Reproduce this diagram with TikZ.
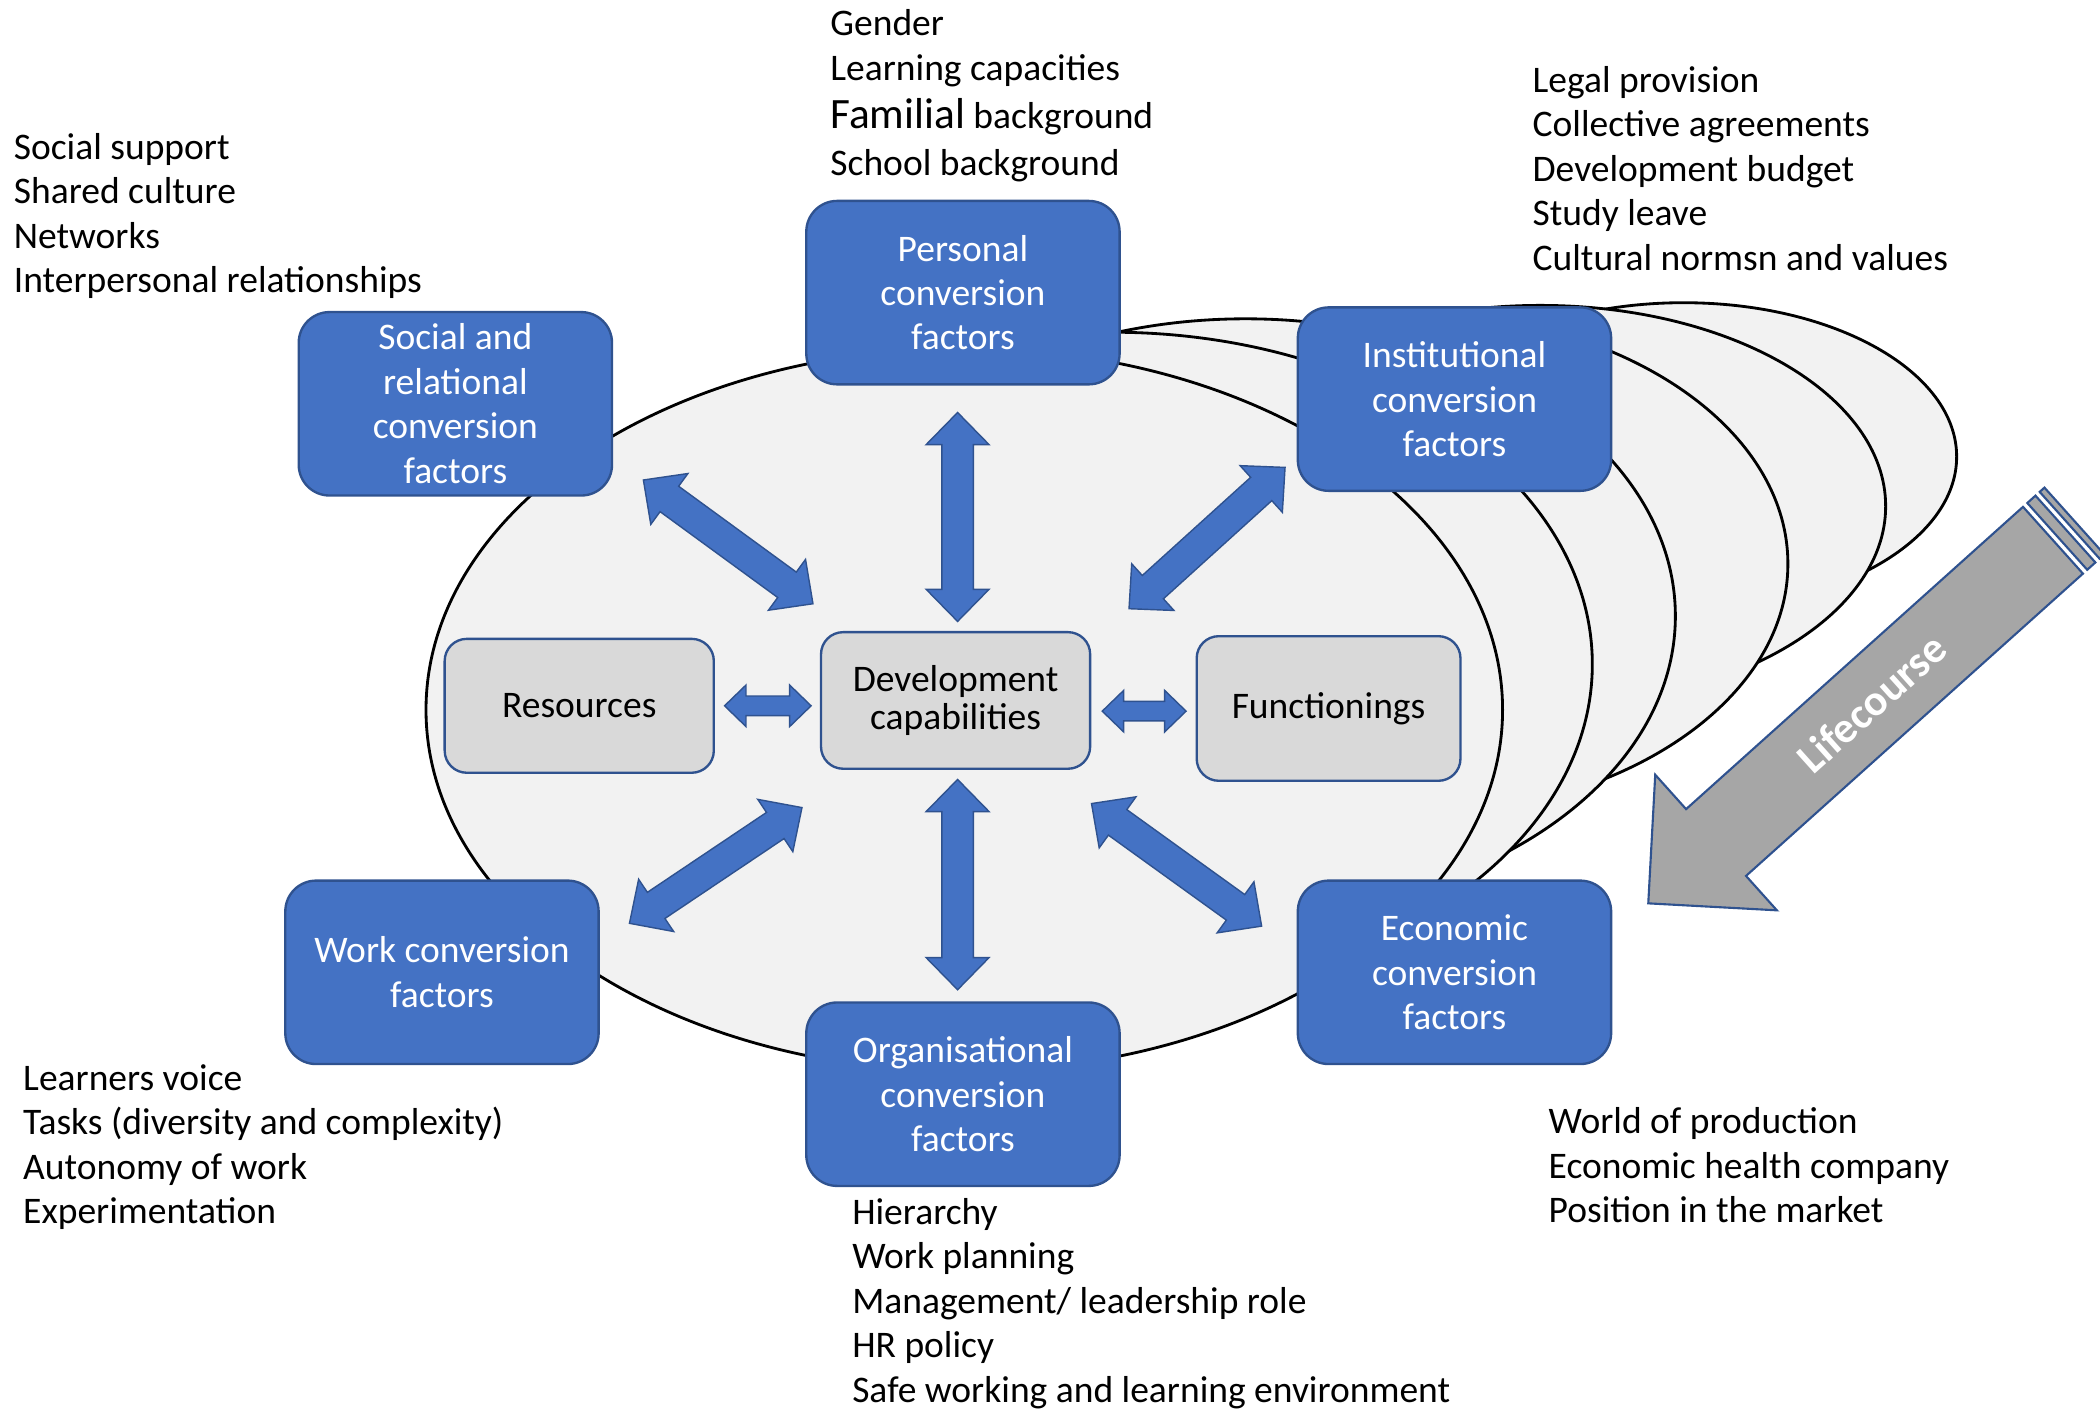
\documentclass[tikz,border=0pt]{standalone}
\usepackage{fontspec}
\setmainfont{Carlito}
\usetikzlibrary{calc}
\definecolor{boxblue}{HTML}{4472C4}
\definecolor{edgeblue}{HTML}{2F528F}
\definecolor{panelgray}{HTML}{D9D9D9}
\definecolor{ringfill}{HTML}{F2F2F2}
\definecolor{lifegray}{HTML}{A6A6A6}

\begin{document}
\begin{tikzpicture}[x=0.02cm,y=-0.02cm,
  bodyfont/.style={font=\fontsize{15.95}{18.9}\selectfont},
  factor/.style={rectangle, rounded corners=0.46cm, fill=boxblue, draw=edgeblue,
    line width=1pt, minimum width=4.68cm, minimum height=2.74cm, text=white,
    align=center, inner sep=0pt, bodyfont},
  core/.style={rectangle, rounded corners=0.33cm, fill=panelgray, draw=edgeblue,
    line width=1pt, align=center, inner sep=0pt, bodyfont},
  ring/.style={fill=ringfill, draw=black, line width=1.2pt},
  list/.style={anchor=base west, inner sep=0pt, bodyfont},
  lifearrow/.style={fill=lifegray, draw=edgeblue, line width=0.9pt, line join=miter},
  % block double arrow between two points: #1 head length, #2 head half width, #3 shaft half width
  twoway/.style n args={3}{fill=boxblue, draw=edgeblue, line width=0.6pt, line join=miter,
    to path={
      -- ($(\tikztostart)!#1!(\tikztotarget)!#2!90:(\tikztotarget)$)
      -- ($(\tikztostart)!#1!(\tikztotarget)!#3!90:(\tikztotarget)$)
      -- ($(\tikztotarget)!#1!(\tikztostart)!#3!-90:(\tikztostart)$)
      -- ($(\tikztotarget)!#1!(\tikztostart)!#2!-90:(\tikztostart)$)
      -- (\tikztotarget)
      -- ($(\tikztotarget)!#1!(\tikztostart)!#2!90:(\tikztostart)$)
      -- ($(\tikztotarget)!#1!(\tikztostart)!#3!90:(\tikztostart)$)
      -- ($(\tikztostart)!#1!(\tikztotarget)!#3!-90:(\tikztotarget)$)
      -- ($(\tikztostart)!#1!(\tikztotarget)!#2!-90:(\tikztotarget)$)
      -- cycle}},
  bigway/.style={twoway={0.48cm}{0.47cm}{0.235cm}},
  smallway/.style={twoway={0.32cm}{0.31cm}{0.146cm}}
]
\useasboundingbox (0,0) rectangle (1568,1054);

% stacked ellipses, back to front
\draw[ring] (1257,341) ellipse [x radius=4.08cm, y radius=2.3cm];
\draw[ring] (1150,378) ellipse [x radius=5.16cm, y radius=3.0cm];
\draw[ring] (1050,421) ellipse [x radius=5.7cm, y radius=3.76cm];
\draw[ring] (930,460) ellipse [x radius=6.42cm, y radius=4.44cm];
\draw[ring] (830,496) ellipse [x radius=7.18cm, y radius=4.96cm];
\draw[ring] (720,530) ellipse [x radius=8.04cm, y radius=5.4cm];

% factor boxes
\node[factor] (personal) at (719,218.5) {Personal\\conversion\\factors};
\node[factor] (social) at (340,301.5) {Social and\\relational\\conversion\\factors};
\node[factor] (inst) at (1086,298) {Institutional\\conversion\\factors};
\node[factor] (work) at (330,726) {Work conversion\\factors};
\node[factor] (org) at (719,817) {Organisational\\conversion\\factors};
\node[factor] (econ) at (1086,726) {Economic\\conversion\\factors};

% central boxes
\node[core, minimum width=4.02cm, minimum height=2cm] (res) at (432.5,527) {Resources};
\node[core, minimum width=4.02cm, minimum height=2.04cm,
  font=\fontsize{15.95}{16.4}\selectfont] (dev) at (713.5,523) {Development\\capabilities};
\node[core, minimum width=3.94cm, minimum height=2.16cm] (func) at (992,529) {Functionings};

% arrow ends
\coordinate (pa) at (715,308);   \coordinate (pb) at (715,464);
\coordinate (oa) at (715,582);   \coordinate (ob) at (715,739);
\coordinate (sa) at (480.4,358.4); \coordinate (sb) at (607,450.8);
\coordinate (ia) at (959.5,349);   \coordinate (ib) at (843,454.5);
\coordinate (wa) at (598.8,603);   \coordinate (wb) at (470,689.4);
\coordinate (ea) at (815,600);     \coordinate (eb) at (942,691.5);
\coordinate (ra) at (541,527);     \coordinate (rb) at (605.6,527);
\coordinate (fa) at (823,531);     \coordinate (fb) at (885.6,531);

\draw[bigway] (pa) to (pb);
\draw[bigway] (oa) to (ob);
\draw[bigway] (sa) to (sb);
\draw[bigway] (ia) to (ib);
\draw[bigway] (wa) to (wb);
\draw[bigway] (ea) to (eb);
\draw[smallway] (ra) to (rb);
\draw[smallway] (fa) to (fb);

% life course arrow with striped tail
\begin{scope}[shift={(1230.7,674.5)}, rotate=41.9]
  \draw[lifearrow] (0,0) -- (68,-68) -- (68,-33.5) -- (406,-33.5) -- (406,33.5)
    -- (68,33.5) -- (68,68) -- cycle;
  \draw[lifearrow] (410.3,-33.5) rectangle (418.5,33.5);
  \draw[lifearrow] (422.7,-33.5) rectangle (427.5,33.5);
  \node[rotate=41.9, text=white, inner sep=0pt,
    font=\fontsize{18.5}{20}\selectfont\bfseries] (life) at (224,0) {Lifecourse};
\end{scope}

% factor lists
\node[list] (sociallist) at (10,119) {\begin{tabular}[t]{@{}l@{}}Social support\\Shared culture\\Networks\\Interpersonal relationships\end{tabular}};
\node[list] (personallist) at (619.7,26.6) {\begin{tabular}[t]{@{}l@{}}Gender\\Learning capacities\\[1.8pt]{\fontsize{18.4}{20}\selectfont Familial} background\\[0.9pt]School background\end{tabular}};
\node[list] (instlist) at (1144,68.9) {\begin{tabular}[t]{@{}l@{}}Legal provision\\Collective agreements\\Development budget\\Study leave\\Cultural normsn and values\end{tabular}};
\node[list] (worklist) at (17,814) {\begin{tabular}[t]{@{}l@{}}Learners voice\\Tasks (diversity and complexity)\\Autonomy of work\\Experimentation\end{tabular}};
\node[list] (orglist) at (636,914) {\begin{tabular}[t]{@{}l@{}}Hierarchy\\Work planning\\Management/ leadership role\\HR policy\\Safe working and learning environment\end{tabular}};
\node[list] (econlist) at (1156,846.7) {\begin{tabular}[t]{@{}l@{}}World of production\\Economic health company\\Position in the market\end{tabular}};
\end{tikzpicture}
\end{document}
